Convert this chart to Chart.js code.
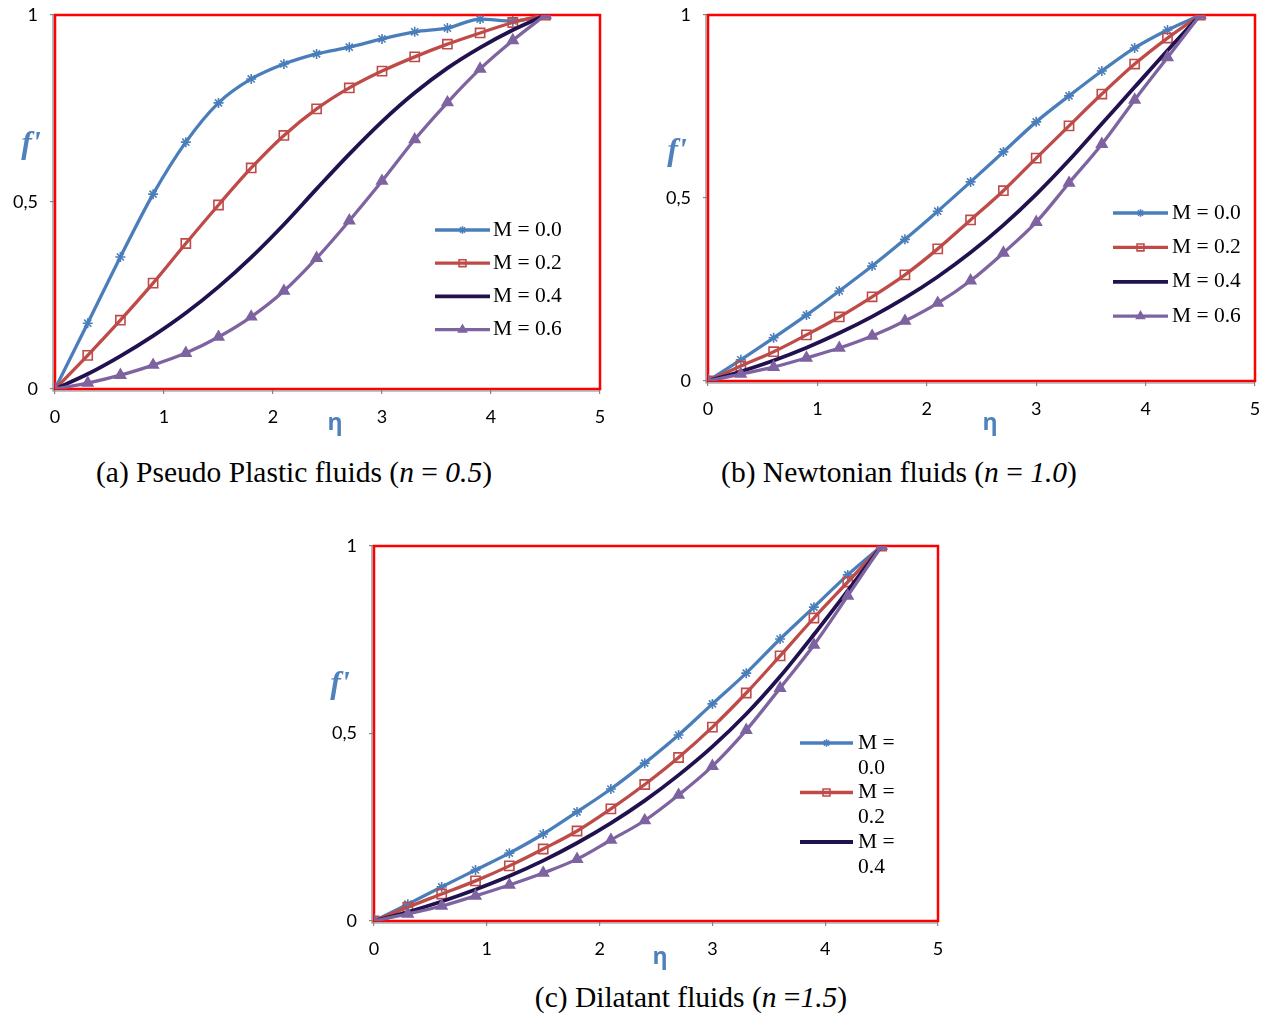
<!DOCTYPE html>
<html>
<head>
<meta charset="utf-8">
<script src="https://cdn.jsdelivr.net/npm/chart.js@4.4.1/dist/chart.umd.min.js"></script>
<style>
  body { margin: 0; background: #fff; width: 1268px; height: 1014px; position: relative; overflow: hidden; }
  .plot { position: absolute; }
  .caption { position: absolute; font-family: "Liberation Serif", "DejaVu Serif", serif; font-size: 29.5px; line-height: 34px;
             color: #000; white-space: nowrap; transform: translateX(-50%); }
</style>
</head>
<body>
<div class="plot" style="left:0;top:0;width:630px;height:440px"><canvas id="chartA"></canvas></div>
<div class="plot" style="left:650px;top:0;width:618px;height:440px"><canvas id="chartB"></canvas></div>
<div class="plot" style="left:320px;top:530px;width:650px;height:440px"><canvas id="chartC"></canvas></div>

<div class="caption" style="left:294px;top:455px">(a) Pseudo Plastic fluids (<i>n</i> = <i>0.5</i>)</div>
<div class="caption" style="left:899px;top:455px">(b) Newtonian fluids (<i>n</i> = <i>1.0</i>)</div>
<div class="caption" style="left:691px;top:980px">(c) Dilatant fluids (<i>n</i> =<i>1.5</i>)</div>

<script>
// eta positions of the computed points
const etaValues = [0, 0.3, 0.6, 0.9, 1.2, 1.5, 1.8, 2.1, 2.4, 2.7, 3.0, 3.3, 3.6, 3.9, 4.2, 4.5];

const seriesLabels = ['M = 0.0', 'M = 0.2', 'M = 0.4', 'M = 0.6'];

// (a) pseudo plastic, n = 0.5
const pseudoM00 = [0, 0.176, 0.353, 0.521, 0.660, 0.765, 0.829, 0.869, 0.896, 0.914, 0.936, 0.955, 0.965, 0.989, 0.984, 1];
const pseudoM02 = [0, 0.090, 0.184, 0.283, 0.389, 0.492, 0.591, 0.678, 0.749, 0.805, 0.850, 0.888, 0.922, 0.952, 0.980, 1];
const pseudoM04 = [0, 0.040, 0.088, 0.142, 0.203, 0.273, 0.352, 0.440, 0.535, 0.628, 0.715, 0.792, 0.858, 0.913, 0.960, 1];
const pseudoM06 = [0, 0.016, 0.037, 0.064, 0.096, 0.139, 0.193, 0.262, 0.350, 0.450, 0.556, 0.667, 0.766, 0.856, 0.932, 1];

// (b) newtonian, n = 1.0
const newtonM00 = [0, 0.058, 0.118, 0.180, 0.246, 0.314, 0.387, 0.464, 0.544, 0.626, 0.708, 0.779, 0.847, 0.910, 0.959, 1];
const newtonM02 = [0, 0.041, 0.080, 0.126, 0.175, 0.230, 0.290, 0.361, 0.440, 0.520, 0.609, 0.697, 0.784, 0.866, 0.937, 1];
const newtonM04 = [0, 0.026, 0.056, 0.091, 0.131, 0.176, 0.227, 0.285, 0.351, 0.426, 0.510, 0.603, 0.703, 0.803, 0.903, 1];
const newtonM06 = [0, 0.019, 0.038, 0.063, 0.090, 0.123, 0.164, 0.213, 0.274, 0.350, 0.434, 0.541, 0.647, 0.768, 0.884, 1];

// (c) dilatant, n = 1.5
const dilatantM00 = [0, 0.045, 0.091, 0.136, 0.181, 0.232, 0.291, 0.352, 0.421, 0.496, 0.579, 0.661, 0.752, 0.837, 0.923, 1];
const dilatantM02 = [0, 0.037, 0.072, 0.107, 0.147, 0.192, 0.240, 0.299, 0.364, 0.436, 0.517, 0.608, 0.707, 0.808, 0.904, 1];
const dilatantM04 = [0, 0.024, 0.052, 0.084, 0.120, 0.161, 0.208, 0.261, 0.321, 0.389, 0.465, 0.552, 0.652, 0.764, 0.881, 1];
const dilatantM06 = [0, 0.019, 0.040, 0.067, 0.096, 0.128, 0.165, 0.216, 0.268, 0.336, 0.413, 0.509, 0.621, 0.736, 0.867, 1];

const xTicks = [0, 1, 2, 3, 4, 5];
const xTickLabels = ['0', '1', '2', '3', '4', '5'];
const yTicks = [0, 0.5, 1];
const yTickLabels = ['0', '0,5', '1'];

const styles = [
  { color: '#4A7EBB', pointStyle: 'star', radius: 5, fill: '#4A7EBB', width: 3.3 },
  { color: '#BE4B48', pointStyle: 'rect', radius: 6.5, fill: 'rgba(255,255,255,0)', width: 3.3 },
  { color: '#22114F', pointStyle: false, radius: 0, fill: '#22114F', width: 3.8 },
  { color: '#7E63A1', pointStyle: 'triangle', radius: 6, fill: '#7E63A1', width: 3.3 }
];

function makeSets(series) {
  return series.map((vals, i) => ({
    label: seriesLabels[i],
    data: etaValues.map((x, k) => ({ x: x, y: vals[k] })),
    borderColor: styles[i].color,
    borderWidth: styles[i].width,
    pointStyle: styles[i].pointStyle || 'circle',
    pointRadius: styles[i].radius,
    pointBackgroundColor: styles[i].fill,
    pointBorderColor: styles[i].color,
    pointBorderWidth: 1.6,
    cubicInterpolationMode: 'monotone',
    order: 3 - i
  }));
}

const decor = {
  id: 'decor',
  beforeDatasetsDraw(chart) {
    const { ctx, chartArea: a } = chart;
    ctx.save();
    ctx.strokeStyle = '#ff0000';
    ctx.lineWidth = 2.5;
    ctx.strokeRect(a.left, a.top, a.right - a.left, a.bottom - a.top);
    ctx.strokeStyle = '#868686';
    ctx.lineWidth = 1.2;
    ctx.beginPath();
    ctx.moveTo(a.left - 2, a.top);
    ctx.lineTo(a.left - 2, a.bottom + 2);
    ctx.lineTo(a.right, a.bottom + 2);
    ctx.stroke();
    ctx.restore();
  },
  afterDraw(chart, args, opts) {
    const ctx = chart.ctx;
    ctx.save();
    // axis titles
    ctx.fillStyle = '#4F81BD';
    ctx.textAlign = 'center';
    ctx.textBaseline = 'middle';
    ctx.font = 'bold italic 32px "Liberation Serif"';
    ctx.fillText("f'", opts.fPos[0], opts.fPos[1]);
    ctx.font = 'bold 23px "Open Sans"';
    ctx.fillText('\u03b7', opts.etaPos[0], opts.etaPos[1]);
    // legend
    const lg = opts.legend;
    lg.items.forEach((di, k) => {
      const ds = chart.data.datasets[di];
      const y = lg.y + k * lg.gap;
      ctx.strokeStyle = ds.borderColor;
      ctx.lineWidth = ds.borderWidth;
      ctx.beginPath();
      ctx.moveTo(lg.x1, y);
      ctx.lineTo(lg.x2, y);
      ctx.stroke();
      if (ds.pointRadius > 0 && Chart.helpers && Chart.helpers.drawPoint) {
        ctx.fillStyle = ds.pointBackgroundColor;
        ctx.strokeStyle = ds.pointBorderColor;
        ctx.lineWidth = ds.pointBorderWidth;
        Chart.helpers.drawPoint(ctx, { pointStyle: ds.pointStyle, radius: ds.pointRadius * 0.75,
          borderWidth: ds.pointBorderWidth, rotation: 0 }, (lg.x1 + lg.x2) / 2, y);
      }
      ctx.fillStyle = '#000';
      ctx.textAlign = 'left';
      ctx.textBaseline = 'middle';
      ctx.font = '21.5px "Liberation Serif"';
      if (lg.wrap) {
        const parts = ds.label.split(' = ');
        ctx.fillText(parts[0] + ' =', lg.tx, y);
        ctx.fillText(parts[1], lg.tx, y + lg.lineH);
      } else {
        ctx.fillText(ds.label, lg.tx, y);
      }
    });
    ctx.restore();
  }
};

const tickFont = { family: 'Lato', size: 18 };

function makeChart(id, series, box, decorOpts) {
  new Chart(document.getElementById(id), {
    type: 'line',
    data: { datasets: makeSets(series) },
    plugins: [decor],
    options: {
      responsive: true,
      maintainAspectRatio: false,
      animation: false,
      layout: { padding: { top: box.top, right: box.right, left: 0, bottom: 0 } },
      plugins: { legend: { display: false }, tooltip: { enabled: false }, decor: decorOpts },
      scales: {
        x: {
          type: 'linear', min: 0, max: 5,
          afterBuildTicks: s => { s.ticks = xTicks.map(v => ({ value: v })); },
          afterFit: s => { s.height = box.xh; s.paddingLeft = 0; s.paddingRight = 0; },
          ticks: { font: tickFont, color: '#000', padding: 12, maxRotation: 0, autoSkip: false,
                   callback: (v, i) => xTickLabels[i] },
          grid: { drawOnChartArea: false, drawTicks: true, tickLength: 5, color: '#868686', lineWidth: 1.2 },
          border: { display: false }
        },
        y: {
          type: 'linear', min: 0, max: 1,
          afterBuildTicks: s => { s.ticks = yTicks.map(v => ({ value: v })); },
          afterFit: s => { s.width = box.yw; s.paddingTop = 0; s.paddingBottom = 0; },
          ticks: { font: tickFont, color: '#000', padding: 12, autoSkip: false,
                   callback: (v, i) => yTickLabels[i] },
          grid: { drawOnChartArea: false, drawTicks: true, tickLength: 5, color: '#868686', lineWidth: 1.2 },
          border: { display: false }
        }
      }
    }
  });
}

makeChart('chartA', [pseudoM00, pseudoM02, pseudoM04, pseudoM06],
  { top: 15, right: 30, xh: 51, yw: 55 },
  { fPos: [31, 145], etaPos: [335, 423],
    legend: { items: [0, 1, 2, 3], x1: 435, x2: 490, tx: 493, y: 230, gap: 33.2 } });

makeChart('chartB', [newtonM00, newtonM02, newtonM04, newtonM06],
  { top: 15, right: 13, xh: 59, yw: 58 },
  { fPos: [27, 152], etaPos: [340, 423],
    legend: { items: [0, 1, 2, 3], x1: 463, x2: 518, tx: 522, y: 213, gap: 34.4 } });

makeChart('chartC', [dilatantM00, dilatantM02, dilatantM04, dilatantM06],
  { top: 16, right: 32, xh: 49, yw: 54 },
  { fPos: [20, 155], etaPos: [340, 427],
    legend: { items: [0, 1, 2], x1: 480, x2: 533, tx: 538, y: 213, gap: 49.5, wrap: true, lineH: 25 } });
</script>
</body>
</html>
